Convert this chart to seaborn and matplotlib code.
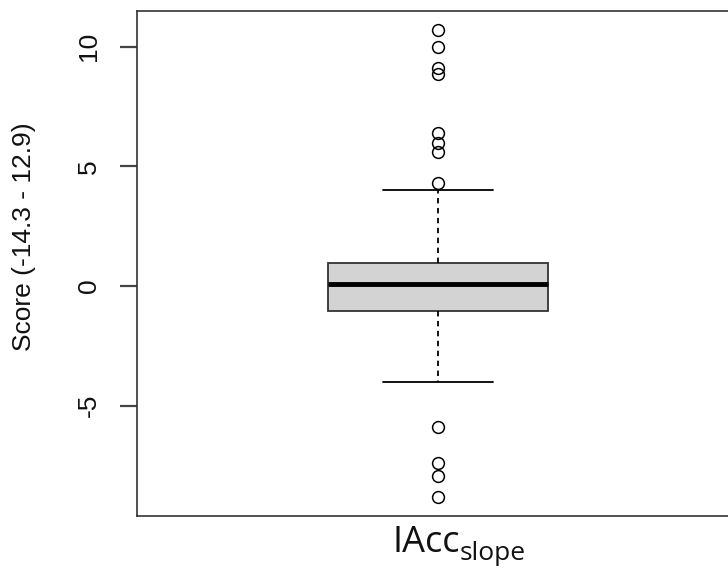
import numpy as np
import matplotlib
matplotlib.use("Agg")
import matplotlib.pyplot as plt
import seaborn as sns

sns.set_theme(style="ticks")
plt.rcParams['font.family'] = ['Liberation Sans', 'DejaVu Sans']

# box statistics
label = "IAcc"
q1, med, q3 = -1.05, 0.08, 0.96
whis_lo, whis_hi = -4.02, 4.02
outliers = [10.71, 10.0, 9.12, 8.87, 6.4, 5.98, 5.6, 4.3,
            -5.9, -7.41, -7.95, -8.83]
yticks = [-5, 0, 5, 10]

stats = [dict(label=label, q1=q1, med=med, q3=q3,
              whislo=whis_lo, whishi=whis_hi, fliers=outliers)]

fig = plt.figure(figsize=(7.28, 5.68), dpi=100)
ax = fig.add_axes([137 / 728, 1 - 516 / 568, 602 / 728, 505 / 568])

ax.bxp(stats, positions=[1], widths=0.365, patch_artist=True,
       boxprops=dict(facecolor="#d3d3d3", edgecolor="#333333", linewidth=1.3),
       medianprops=dict(color="black", linewidth=3.5),
       whiskerprops=dict(color="black", linestyle=(0, (3, 2.5)), linewidth=1.3),
       capprops=dict(color="black", linewidth=1.3),
       capwidths=0.183,
       flierprops=dict(marker="o", markerfacecolor="none", markeredgecolor="black",
                       markersize=8.5, markeredgewidth=1.1))

ax.set_xlim(0.5, 1.5)
ax.set_ylim(-9.62, 11.5)
ax.set_yticks(yticks)
ax.set_yticklabels([str(t) for t in yticks], rotation=90, va="center",
                   fontsize=19, color="#111111")
ax.set_xticks([])
ax.tick_params(axis="y", which="major", left=True, direction="out",
               length=12, width=1.6, color="#444444", pad=14)
for s in ax.spines.values():
    s.set_color("#333333")
    s.set_linewidth(1.2)

fig.text(24 / 728, 1 - 237 / 568, "Score (-14.3 - 12.9)", rotation=90,
         ha="center", va="center", fontsize=19, color="#111111")
fig.text(393 / 728, 1 - 552 / 568, "IAcc", ha="left", va="baseline",
         fontsize=26, family="Open Sans", color="#111111")
fig.text(460 / 728, 1 - 560 / 568, "slope", ha="left", va="baseline",
         fontsize=19, family="Open Sans", color="#111111")

fig.savefig("out.png", dpi=100)
